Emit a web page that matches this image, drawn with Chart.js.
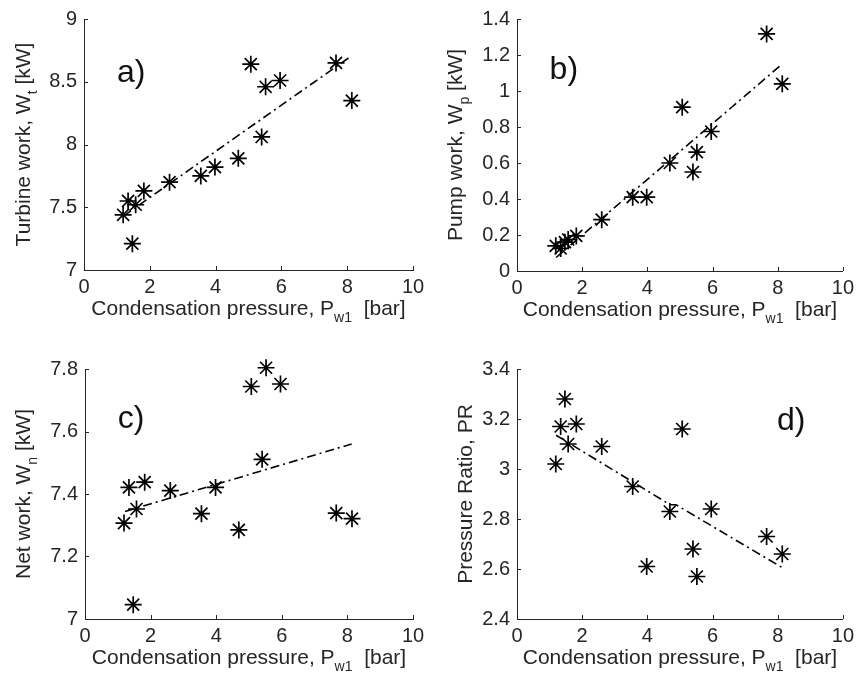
<!DOCTYPE html>
<html>
<head>
<meta charset="utf-8">
<script src="https://cdn.jsdelivr.net/npm/chart.js@4.4.1/dist/chart.umd.min.js"></script>
<style>
  html, body { margin: 0; padding: 0; background: #fff; }
  #wrap { position: relative; width: 859px; height: 675px; overflow: hidden; }
  .cell { position: absolute; }
  canvas { display: block; }
</style>
</head>
<body>
<div id="wrap">
  <div class="cell" style="left:0;top:0"><canvas id="panelA" width="430" height="337"></canvas></div>
  <div class="cell" style="left:430px;top:0"><canvas id="panelB" width="429" height="337"></canvas></div>
  <div class="cell" style="left:0;top:337px"><canvas id="panelC" width="430" height="338"></canvas></div>
  <div class="cell" style="left:430px;top:337px"><canvas id="panelD" width="429" height="338"></canvas></div>
</div>
<script>
// Condensation pressure of each run [bar]
const pressure      = [1.19, 1.34, 1.47, 1.57, 1.82, 2.60, 3.55, 3.98, 4.69, 5.07, 5.40, 5.52, 5.96, 7.66, 8.14];
// Measured quantities for the same runs
const turbineWork   = [7.44, 7.55, 7.21, 7.52, 7.63, 7.70, 7.75, 7.82, 7.89, 8.64, 8.06, 8.46, 8.51, 8.65, 8.35];
const pumpWork      = [0.14, 0.125, 0.16, 0.175, 0.195, 0.285, 0.41, 0.41, 0.60, 0.91, 0.55, 0.66, 0.775, 1.317, 1.04];
const netWork       = [7.307, 7.421, 7.046, 7.352, 7.438, 7.411, 7.337, 7.421, 7.285, 7.744, 7.511, 7.804, 7.752, 7.339, 7.321];
const pressureRatio = [3.02, 3.17, 3.28, 3.10, 3.18, 3.09, 2.93, 2.61, 2.83, 3.16, 2.68, 2.57, 2.84, 2.73, 2.66];

// Fitted trend lines (x, y pairs)
const turbineFitX = [1.2, 8.1];   const turbineFitY = [7.43, 8.70];
const pumpFitX    = [1.2, 8.1];   const pumpFitY    = [0.075, 1.144];
const netFitX     = [1.22, 8.13]; const netFitY     = [7.344, 7.56];
const ratioFitX   = [1.2, 4.7, 4.88, 8.12]; const ratioFitY = [3.135, 2.857, 2.857, 2.607];

// Axis tick values
const pressureTicks = [0, 2, 4, 6, 8, 10];
const turbineTicks  = [7, 7.5, 8, 8.5, 9];
const pumpTicks     = [0, 0.2, 0.4, 0.6, 0.8, 1, 1.2, 1.4];
const netTicks      = [7, 7.2, 7.4, 7.6, 7.8];
const ratioTicks    = [2.4, 2.6, 2.8, 3, 3.2, 3.4];

const FONT = '"Liberation Sans", Arial, Helvetica, sans-serif';
const INK = '#262626';
const MAIN_FONT = '21px ' + FONT;
const SUB_FONT = '14px ' + FONT;
const SUB_DY = 7;

function richWidth(ctx, parts) {
  let w = 0;
  parts.forEach(p => { ctx.font = p.sub ? SUB_FONT : MAIN_FONT; w += ctx.measureText(p.t).width; });
  return w;
}
// Draws a label made of normal and subscript runs, centred on (x, y)
function drawRich(ctx, parts, x, y) {
  let cx = x - richWidth(ctx, parts) / 2;
  ctx.textAlign = 'left';
  ctx.textBaseline = 'alphabetic';
  parts.forEach(p => {
    ctx.font = p.sub ? SUB_FONT : MAIN_FONT;
    ctx.fillText(p.t, cx, y + (p.sub ? SUB_DY : 0));
    cx += ctx.measureText(p.t).width;
  });
}

const xTitle = [{ t: 'Condensation pressure, P' }, { t: 'w1', sub: true }, { t: '  [bar]' }];

function makeDecor(cfg) {
  return {
    id: 'decor',
    afterDraw(chart) {
      const ctx = chart.ctx, area = chart.chartArea;
      const xs = chart.scales.x, ys = chart.scales.y;
      ctx.save();
      // inward tick marks
      ctx.strokeStyle = INK;
      ctx.lineWidth = 1;
      ctx.beginPath();
      xs.ticks.forEach(t => {
        const px = Math.round(xs.getPixelForValue(t.value)) + 0.5;
        ctx.moveTo(px, area.bottom);
        ctx.lineTo(px, area.bottom - 4);
      });
      ys.ticks.forEach(t => {
        const py = Math.round(ys.getPixelForValue(t.value)) + 0.5;
        ctx.moveTo(area.left, py);
        ctx.lineTo(area.left + 4, py);
      });
      ctx.stroke();

      ctx.fillStyle = INK;
      // x axis title
      drawRich(ctx, xTitle, (area.left + area.right) / 2, area.bottom + 45);
      // y axis title (rotated)
      ctx.translate(area.left - cfg.yTitleOffset, (area.top + area.bottom) / 2);
      ctx.rotate(-Math.PI / 2);
      drawRich(ctx, cfg.yTitle, 0, 0);
      ctx.setTransform(1, 0, 0, 1, 0, 0);

      // panel letter
      ctx.fillStyle = '#111';
      ctx.font = '32px ' + FONT;
      ctx.textAlign = 'left';
      ctx.textBaseline = 'alphabetic';
      ctx.fillText(cfg.letter, xs.getPixelForValue(cfg.letterAt[0]), ys.getPixelForValue(cfg.letterAt[1]));
      ctx.restore();
    }
  };
}

function makePanel(id, cfg) {
  const pts = pressure.map((x, i) => ({ x: x, y: cfg.values[i] }));
  const fit = cfg.fitX.map((x, i) => ({ x: x, y: cfg.fitY[i] }));
  const tickFont = { family: FONT, size: 20 };
  new Chart(document.getElementById(id), {
    type: 'scatter',
    data: {
      datasets: [
        { data: fit, showLine: true, borderColor: '#000', borderWidth: 1.6,
          borderDash: [9, 4, 2, 4], pointRadius: 0, fill: false, order: 1, clip: false },
        { data: pts, showLine: false, pointStyle: 'star', pointRadius: 8.5,
          pointBorderColor: '#000', pointBackgroundColor: '#000', pointBorderWidth: 1.7,
          order: 0, clip: false }
      ]
    },
    options: {
      responsive: false,
      animation: false,
      events: [],
      layout: { padding: { top: cfg.top, right: cfg.right, left: 0, bottom: 0 } },
      plugins: { legend: { display: false }, tooltip: { enabled: false } },
      scales: {
        x: {
          type: 'linear', min: 0, max: 10,
          afterBuildTicks: s => { s.ticks = pressureTicks.map(v => ({ value: v })); },
          afterFit: s => { s.height = cfg.xh; },
          ticks: { callback: v => String(v), font: tickFont, color: INK, padding: 5, maxRotation: 0, autoSkip: false },
          grid: { display: true, drawOnChartArea: false, drawTicks: false },
          border: { display: true, color: INK, width: 1 }
        },
        y: {
          type: 'linear', min: cfg.yMin, max: cfg.yMax,
          afterBuildTicks: s => { s.ticks = cfg.yTicks.map(v => ({ value: v })); },
          afterFit: s => { s.width = cfg.yw; },
          ticks: { callback: v => String(v), font: tickFont, color: INK, padding: 7, autoSkip: false },
          grid: { display: true, drawOnChartArea: false, drawTicks: false },
          border: { display: true, color: INK, width: 1 }
        }
      }
    },
    plugins: [makeDecor(cfg)]
  });
}

makePanel('panelA', {
  values: turbineWork, fitX: turbineFitX, fitY: turbineFitY,
  yMin: 7, yMax: 9, yTicks: turbineTicks,
  top: 17, right: 17, yw: 84, xh: 67, yTitleOffset: 54,
  yTitle: [{ t: 'Turbine work, W' }, { t: 't', sub: true }, { t: ' [kW]' }],
  letter: 'a)', letterAt: [1.0, 8.5]
});
makePanel('panelB', {
  values: pumpWork, fitX: pumpFitX, fitY: pumpFitY,
  yMin: 0, yMax: 1.4, yTicks: pumpTicks,
  top: 18, right: 12, yw: 87, xh: 66, yTitleOffset: 55,
  yTitle: [{ t: 'Pump work, W' }, { t: 'p', sub: true }, { t: ' [kW]' }],
  letter: 'b)', letterAt: [1.0, 1.067]
});
makePanel('panelC', {
  values: netWork, fitX: netFitX, fitY: netFitY,
  yMin: 7, yMax: 7.8, yTicks: netTicks,
  top: 32, right: 17, yw: 85, xh: 56, yTitleOffset: 55,
  yTitle: [{ t: 'Net work, W' }, { t: 'n', sub: true }, { t: ' [kW]' }],
  letter: 'c)', letterAt: [1.0, 7.61]
});
makePanel('panelD', {
  values: pressureRatio, fitX: ratioFitX, fitY: ratioFitY,
  yMin: 2.4, yMax: 3.4, yTicks: ratioTicks,
  top: 32, right: 12, yw: 87, xh: 56, yTitleOffset: 45,
  yTitle: [{ t: 'Pressure Ratio, PR' }],
  letter: 'd)', letterAt: [7.98, 3.156]
});
</script>
</body>
</html>
